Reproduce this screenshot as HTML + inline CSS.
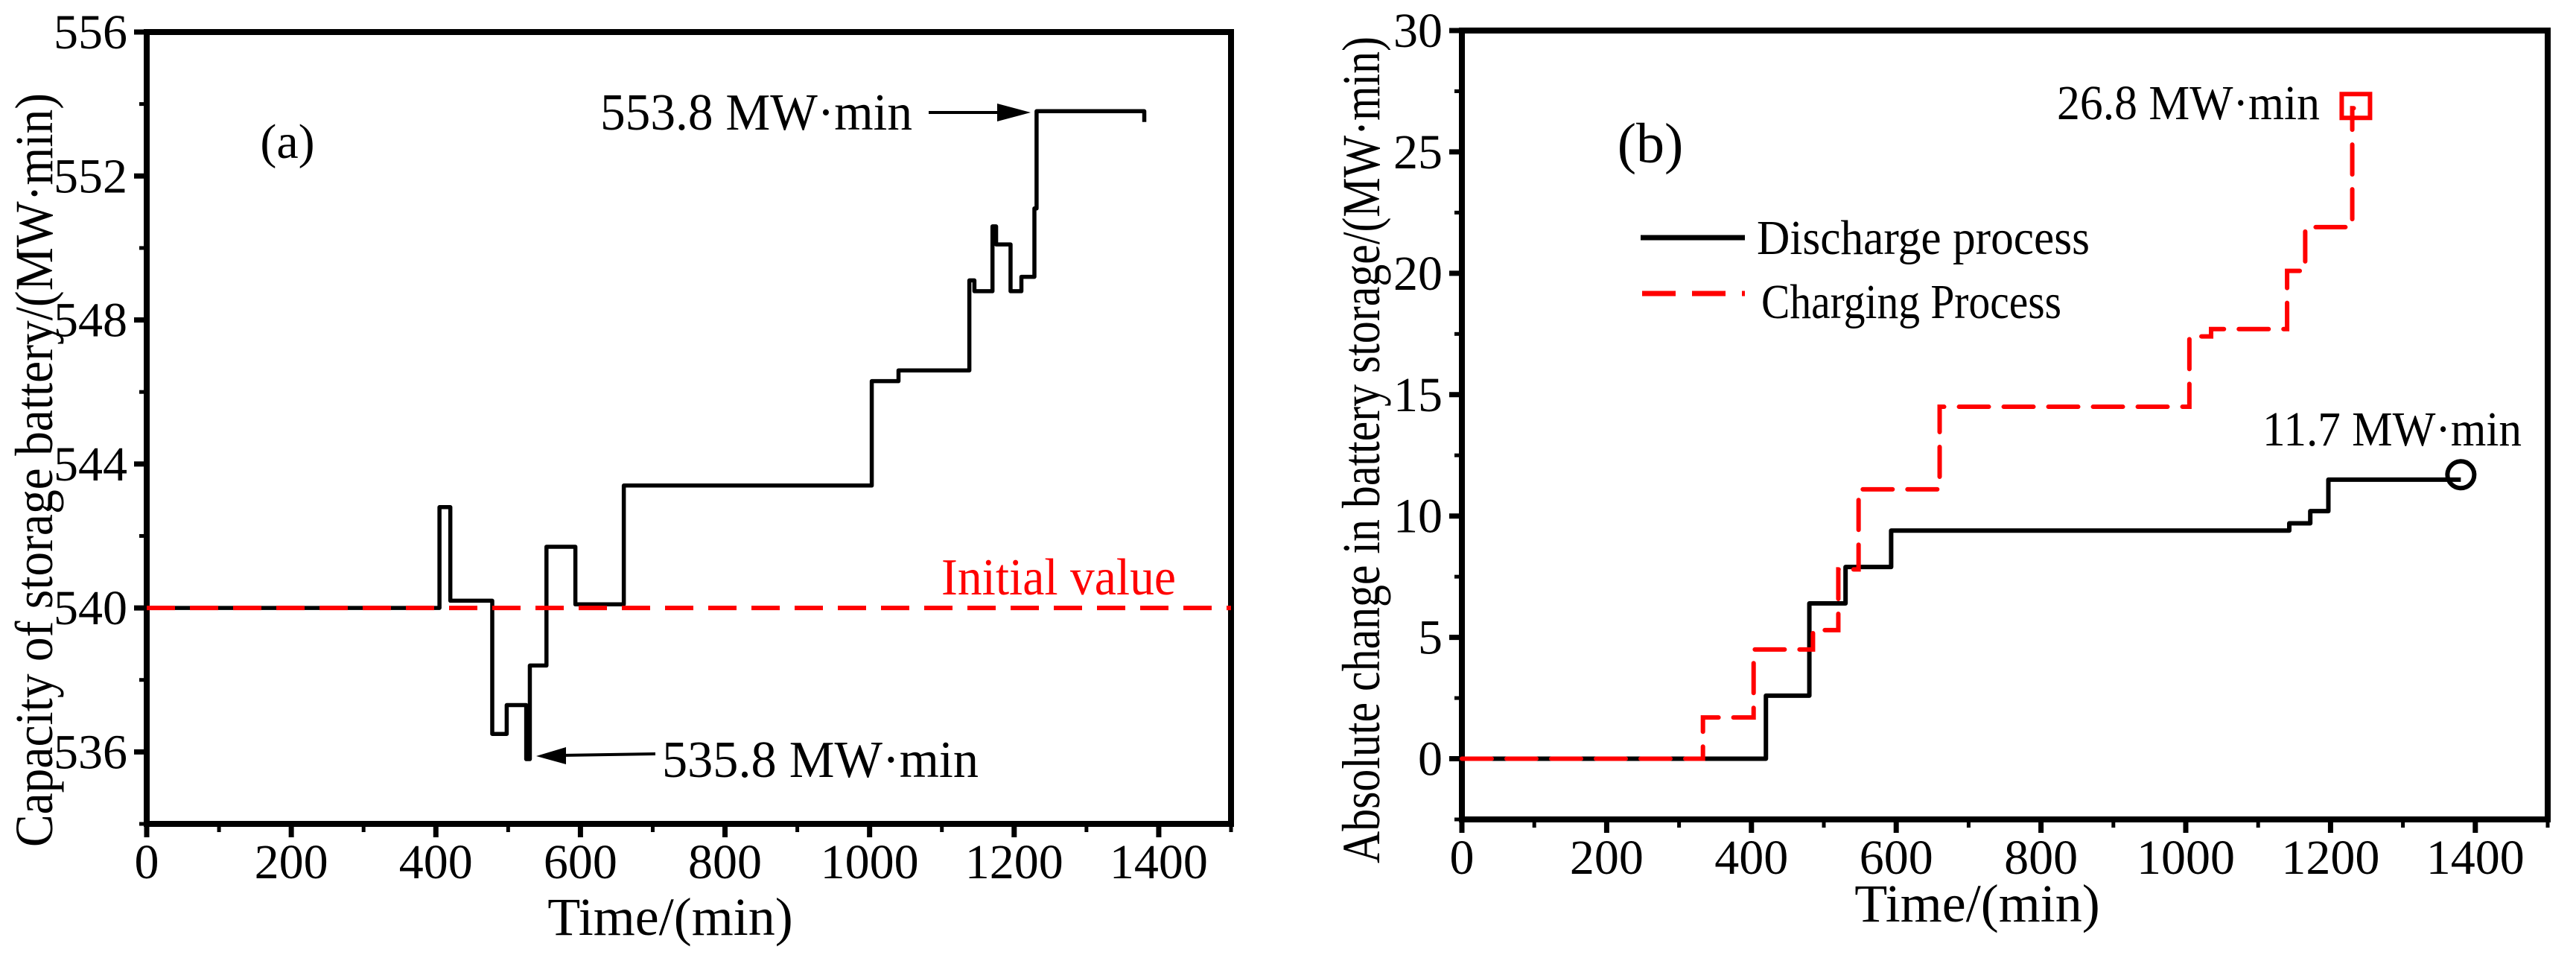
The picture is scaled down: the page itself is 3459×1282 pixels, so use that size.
<!DOCTYPE html>
<html><head><meta charset="utf-8"><style>
html,body{margin:0;padding:0;background:#fff;}
svg{display:block;}
text{font-family:"Liberation Serif",serif;}
</style></head><body>
<svg id="chart" width="3459" height="1282" viewBox="0 0 3459 1282" xmlns="http://www.w3.org/2000/svg">
<g id="pa"></g>
<g id="pb"></g>
</svg>
<script>
// Panel (a) data
const aTimes = [0,405,420,478,498,525,530,553,593,660,1003,1040,1138,1145,1170,1175,1195,1210,1228,1231,1380];
const aCapacity = [540,542.8,540.2,536.5,537.3,535.8,538.4,541.7,540.1,543.4,546.3,546.6,549.1,548.8,550.6,550.1,548.8,549.2,551.1,553.8,553.5];
const aInitial = 540;
const aYTicks = [536,540,544,548,552,556];
const xTicks = [0,200,400,600,800,1000,1200,1400];
// Panel (b) data
const bDisTimes = [0,420,480,530,593,1143,1172,1197,1380];
const bDisValues = [0,2.6,6.4,7.9,9.4,9.7,10.2,11.5,11.5];
const bChgTimes = [0,333,403,485,520,548,660,1005,1035,1140,1165,1230,1232];
const bChgValues = [0,1.7,4.5,5.3,7.8,11.1,14.5,17.4,17.7,20.1,21.9,26.8,26.8];
const bYTicks = [0,5,10,15,20,25,30];
const bDisMark = [1380,11.7];
const bChgMark = [1235,26.8];

const NS='http://www.w3.org/2000/svg';
function mk(parent,tag,attrs,txt){const e=document.createElementNS(NS,tag);for(const k in attrs)e.setAttribute(k,attrs[k]);if(txt!==undefined)e.textContent=txt;parent.appendChild(e);return e;}

function axes(g,X,Y,x0,x1,y0,y1,yt,ymin,ymax,yminor,prefix){
  const fr=mk(g,'rect',{x:x0,y:y0,width:x1-x0,height:y1-y0,fill:'none',stroke:'#000','stroke-width':8});
  
  
  for(let v=0;v<=1500;v+=100){
    const maj=v%200===0;
    const t=mk(g,'line',{x1:X(v),x2:X(v),y1:y1,y2:y1+(maj?18:11),stroke:'#000','stroke-width':maj?7:5});
    
    
  }
  xTicks.forEach(v=>{
    const t=mk(g,'text',{x:X(v),y:y1+73,'font-size':66,'text-anchor':'middle'},String(v));
    
    
  });
  for(let v=ymin;v<=ymax+1e-9;v+=yminor){
    const maj=yt.some(u=>Math.abs(u-v)<1e-6);
    const t=mk(g,'line',{x1:x0-(maj?17:10),x2:x0,y1:Y(v),y2:Y(v),stroke:'#000','stroke-width':maj?7:5});
    
    
  }
  yt.forEach(v=>{
    const t=mk(g,'text',{x:x0-26,y:Y(v)+22,'font-size':66,'text-anchor':'end'},String(v));
    
    
  });
}
function stepPath(X,Y,xs,ys){let d='M'+X(xs[0])+','+Y(ys[0]);for(let i=1;i<xs.length;i++){d+=' H'+X(xs[i])+' V'+Y(ys[i]);}return d;}

// ---- Panel A ----
(function(){
  const g=document.getElementById('pa');
  const x0=197,x1=1653,y0=43,y1=1106;
  const X=v=>x0+(v/1500)*(x1-x0);
  const Y=v=>y1-(v-534)/(556-534)*(y1-y0);
  axes(g,X,Y,x0,x1,y0,y1,aYTicks,534,556,2,'a');
  const line=mk(g,'path',{d:stepPath(X,Y,aTimes,aCapacity),fill:'none',stroke:'#000','stroke-width':5.5,'stroke-linejoin':'round'});
  
  
  const init=mk(g,'line',{x1:x0,x2:x1,y1:Y(aInitial),y2:Y(aInitial),stroke:'#ff0000','stroke-width':6,'stroke-dasharray':'38 20'});
  
  
  const it=mk(g,'text',{x:1264,y:798,'font-size':70,fill:'#ff0000',textLength:315,lengthAdjust:'spacingAndGlyphs'},'Initial value');
  
  
  const la=mk(g,'text',{x:386,y:212,'font-size':66,'text-anchor':'middle'},'(a)');
  
  
  const t1=mk(g,'text',{x:806,y:174,'font-size':70,textLength:419,lengthAdjust:'spacingAndGlyphs'},'553.8 MW·min');
  
  
  const a1=mk(g,'line',{x1:1247,y1:151,x2:1345,y2:151,stroke:'#000','stroke-width':4});
  
  
  const h1=mk(g,'polygon',{points:'1339,139 1384,151 1339,163',fill:'#000'});
  
  
  const t2=mk(g,'text',{x:889,y:1043,'font-size':70,textLength:425,lengthAdjust:'spacingAndGlyphs'},'535.8 MW·min');
  
  
  const a2=mk(g,'line',{x1:880,y1:1012,x2:755,y2:1014,stroke:'#000','stroke-width':4});
  
  
  const h2=mk(g,'polygon',{points:'760,1003 720,1015 760,1026',fill:'#000'});
  
  
  const xt=mk(g,'text',{x:900,y:1255,'font-size':72,'text-anchor':'middle'},'Time/(min)');
  
  
  const yt=mk(g,'text',{x:0,y:0,'font-size':72,'text-anchor':'middle',transform:'translate(70,631) rotate(-90)',textLength:1012,lengthAdjust:'spacingAndGlyphs'},'Capacity of storage battery/(MW·min)');
  
  
})();

// ---- Panel B ----
(function(){
  const g=document.getElementById('pb');
  const x0=1963,x1=3421,y0=41,y1=1100;
  const X=v=>x0+(v/1500)*(x1-x0);
  const Y=v=>y1-(v+2.5)/(32.5)*(y1-y0);
  axes(g,X,Y,x0,x1,y0,y1,bYTicks,-2.5,30,2.5,'b');
  const dis=mk(g,'path',{d:stepPath(X,Y,bDisTimes,bDisValues),fill:'none',stroke:'#000','stroke-width':6,'stroke-linejoin':'round'});
  
  
  const chg=mk(g,'path',{d:stepPath(X,Y,bChgTimes,bChgValues),fill:'none',stroke:'#ff0000','stroke-width':6,'stroke-dasharray':'40 20','stroke-linecap':'round'});
  
  
  const c=mk(g,'circle',{cx:X(bDisMark[0]),cy:Y(bDisMark[1]),r:18,fill:'none',stroke:'#000','stroke-width':6});
  
  
  const s=mk(g,'rect',{x:X(bChgMark[0])-19,y:Y(bChgMark[1])-19,width:38,height:32,fill:'none',stroke:'#ff0000','stroke-width':6});
  
  
  const lb=mk(g,'text',{x:2216,y:218,'font-size':76,'text-anchor':'middle'},'(b)');
  
  
  const t1=mk(g,'text',{x:2762,y:160,'font-size':66,textLength:353,lengthAdjust:'spacingAndGlyphs'},'26.8 MW·min');
  
  
  const t2=mk(g,'text',{x:3038,y:598,'font-size':66,textLength:348,lengthAdjust:'spacingAndGlyphs'},'11.7 MW·min');
  
  
  const l1=mk(g,'line',{x1:2203,x2:2343,y1:319,y2:319,stroke:'#000','stroke-width':7});
  
  
  const lt1=mk(g,'text',{x:2359,y:341,'font-size':66,textLength:447,lengthAdjust:'spacingAndGlyphs'},'Discharge process');
  
  
  const l2=mk(g,'line',{x1:2205,x2:2343,y1:394,y2:394,stroke:'#ff0000','stroke-width':7,'stroke-dasharray':'45 22'});
  
  
  const lt2=mk(g,'text',{x:2365,y:427,'font-size':66,textLength:403,lengthAdjust:'spacingAndGlyphs'},'Charging Process');
  
  
  const xt=mk(g,'text',{x:2655,y:1237,'font-size':72,'text-anchor':'middle'},'Time/(min)');
  
  
  const yt=mk(g,'text',{x:0,y:0,'font-size':72,'text-anchor':'middle',transform:'translate(1852,604) rotate(-90)',textLength:1110,lengthAdjust:'spacingAndGlyphs'},'Absolute change in battery storage/(MW·min)');
  
  
})();
</script>
</body></html>
